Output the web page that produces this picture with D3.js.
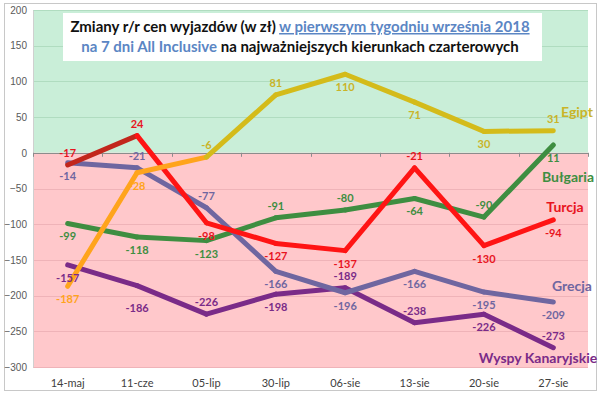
<!DOCTYPE html>
<html>
<head>
<meta charset="utf-8">
<script src="https://cdn.jsdelivr.net/npm/d3@7"></script>
<style>
  body { margin: 0; background: #fff; }
  svg { display: block; font-family: Lato, "Open Sans", sans-serif; }
</style>
</head>
<body>
<svg id="chart" width="600" height="394"></svg>
<script>
const weeks = ["14-maj", "11-cze", "05-lip", "30-lip", "06-sie", "13-sie", "20-sie", "27-sie"];
const yTicks = [-300, -250, -200, -150, -100, -50, 0, 50, 100, 150, 200];

const turcja = [-17, 24, -98, -127, -137, -21, -130, -94];
const egipt = [-187, -28, -6, 81, 110, 71, 30, 31];
const bulgaria = [-99, -118, -123, -91, -80, -64, -90, 11];
const grecja = [-14, -21, -77, -166, -196, -166, -195, -209];
const kanary = [-157, -186, -226, -198, -189, -238, -226, -273];

// where each value label sits: a = above the point, b = below, bb = further below
const turcjaPos = ["a", "a", "b", "b", "b", "a", "b", "b"];
const egiptPos = ["b", "b", "a", "a", "b", "b", "b", "a"];
const bulgariaPos = ["b", "b", "b", "a", "a", "b", "a", "b"];
const grecjaPos = ["b", "a", "a", "b", "b", "b", "b", "b"];
const kanaryPos = ["b", "bb", "a", "b", "a", "a", "b", "a"];

const series = [
  { name: "Bułgaria", values: bulgaria, pos: bulgariaPos, color: "#3e8e41", label: "#3e8e41", nameX: 568, nameY: 177 },
  { name: "Wyspy Kanaryjskie", values: kanary, pos: kanaryPos, color: "#7a2b88", label: "#7a2b88", nameX: 538, nameY: 358 },
  { name: "Grecja", values: grecja, pos: grecjaPos, color: "#6f66a0", label: "#6f66a0", nameX: 572, nameY: 286 },
  { name: "Turcja", values: turcja, pos: turcjaPos, color: "#ff1414", label: "#e8141e", nameX: 565, nameY: 207 },
  { name: "Egipt", values: egipt, pos: egiptPos, color: "#d4bb1a", label: "#c9b428", nameX: 577, nameY: 112 }
];

const svg = d3.select("#chart");
const plotL = 33, plotR = 588, plotT = 10, plotB = 367;

const x = d3.scalePoint().domain(weeks).range([plotL, plotR]).padding(0.5);
const y = d3.scaleLinear().domain([-300, 200]).range([plotB, plotT]);
const step = x.step();

// outer frame
svg.append("rect")
  .attr("x", 4.5).attr("y", 3.5).attr("width", 592).attr("height", 387)
  .attr("fill", "#fff").attr("stroke", "#c8c8c8");

// backgrounds
svg.append("rect").attr("x", plotL).attr("y", y(200)).attr("width", plotR - plotL)
  .attr("height", y(0) - y(200)).attr("fill", "#c9eed8");
svg.append("rect").attr("x", plotL).attr("y", y(0)).attr("width", plotR - plotL)
  .attr("height", y(-300) - y(0)).attr("fill", "#ffc8cb");

// gridlines
svg.append("g").selectAll("line")
  .data(yTicks.filter(d => d !== 0))
  .join("line")
  .attr("x1", plotL).attr("x2", plotR)
  .attr("y1", d => Math.round(y(d)) + 0.5).attr("y2", d => Math.round(y(d)) + 0.5)
  .attr("stroke", d => d > 0 ? "#b0dcc0" : "#efb3b8");

// y axis
const yAxis = d3.axisLeft(y).tickValues(yTicks).tickSize(0).tickPadding(6);
svg.append("g")
  .attr("transform", `translate(${plotL},0)`)
  .call(yAxis)
  .call(g => g.select(".domain").attr("stroke", "#d0d0d0"))
  .call(g => g.selectAll("text").attr("fill", "#595959").attr("font-size", 10));

// zero line with category ticks
svg.append("line")
  .attr("x1", plotL).attr("x2", plotR)
  .attr("y1", Math.round(y(0)) + 0.5).attr("y2", Math.round(y(0)) + 0.5)
  .attr("stroke", "#8c8c8c");
svg.append("g").selectAll("line")
  .data(d3.range(weeks.length + 1))
  .join("line")
  .attr("x1", i => Math.round(plotL + i * step) + 0.5)
  .attr("x2", i => Math.round(plotL + i * step) + 0.5)
  .attr("y1", y(0)).attr("y2", y(0) + 4)
  .attr("stroke", "#8c8c8c");

// x labels
svg.append("g").selectAll("text")
  .data(weeks)
  .join("text")
  .attr("x", d => x(d)).attr("y", 387)
  .attr("text-anchor", "middle")
  .attr("font-size", 11)
  .attr("fill", "#404040")
  .text(d => d);

// lines, drawn segment by segment so colours can change along a series
function segColor(s, i) {
  if (s.name === "Egipt" && s.values[i + 1] < 0) return "#ffa41c";
  if (s.name === "Turcja" && i === 0) return "#c2261c";
  return s.color;
}

series.forEach(s => {
  const g = svg.append("g");
  const segs = d3.range(s.values.length - 1);
  g.selectAll("line")
    .data(segs)
    .join("line")
    .attr("x1", i => x(weeks[i])).attr("y1", i => y(s.values[i]))
    .attr("x2", i => x(weeks[i + 1])).attr("y2", i => y(s.values[i + 1]))
    .attr("stroke", i => segColor(s, i))
    .attr("stroke-width", 5)
    .attr("stroke-linecap", "round");
});

// value labels
const labelShift = { a: -8, b: 17, bb: 26 };
series.forEach(s => {
  svg.append("g").selectAll("text")
    .data(s.values)
    .join("text")
    .attr("x", (d, i) => x(weeks[i]))
    .attr("y", (d, i) => y(d) + labelShift[s.pos[i]])
    .attr("text-anchor", "middle")
    .attr("font-size", 11)
    .attr("font-weight", "bold")
    .attr("fill", (d, i) => (s.name === "Egipt" && d < -10) ? "#ffa41c" : s.label)
    .text(d => d);

  svg.append("text")
    .attr("x", s.nameX).attr("y", s.nameY + 5)
    .attr("text-anchor", "middle")
    .attr("font-size", 14)
    .attr("font-weight", "bold")
    .attr("fill", s.label)
    .text(s.name);
});

// title box
svg.append("rect")
  .attr("x", 63).attr("y", 13).attr("width", 479).attr("height", 48)
  .attr("fill", "#fff");

const t1 = svg.append("text")
  .attr("x", 300).attr("y", 32)
  .attr("text-anchor", "middle")
  .attr("font-size", 15).attr("font-weight", "bold");
t1.append("tspan").attr("fill", "#111").text("Zmiany r/r cen wyjazdów (w zł) ");
t1.append("tspan").attr("fill", "#5b86c4").attr("text-decoration", "underline")
  .text("w pierwszym tygodniu września 2018");

const t2 = svg.append("text")
  .attr("x", 300).attr("y", 52)
  .attr("text-anchor", "middle")
  .attr("font-size", 15).attr("font-weight", "bold");
t2.append("tspan").attr("fill", "#5b86c4").text("na 7 dni All Inclusive");
t2.append("tspan").attr("fill", "#111").text(" na najważniejszych kierunkach czarterowych");
</script>
</body>
</html>
